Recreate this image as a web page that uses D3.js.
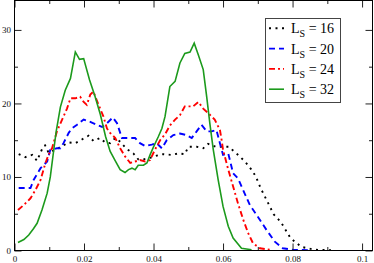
<!DOCTYPE html>
<html>
<head>
<meta charset="utf-8">
<script src="https://cdn.jsdelivr.net/npm/d3@7"></script>
<style>
  body { margin: 0; background: #fff; }
  text { font-family: "Liberation Serif", "Times New Roman", serif; }
</style>
</head>
<body>
<div id="chart"></div>
<script>
// Curves, [x, value] pairs per lattice size
var ls16 = [[0.0012,13.1],[0.0031,12.7],[0.0051,13.0],[0.0065,12.2],[0.0073,13.1],[0.0082,14.1],[0.0088,14.3],
  [0.0098,13.3],[0.0122,13.8],[0.0156,14.7],[0.0175,14.6],[0.0194,15.1],[0.0213,15.6],[0.0227,14.9],[0.0246,15.3],
  [0.0261,14.7],[0.0275,14.6],[0.029,15.3],[0.0304,14.8],[0.0323,13.8],[0.0342,13.2],[0.0356,12.4],[0.0371,12.4],
  [0.039,12.6],[0.0409,12.9],[0.0428,13.1],[0.0452,13.0],[0.0471,13.2],[0.049,13.1],[0.05,14.1],[0.0524,14.1],
  [0.0543,13.9],[0.0557,14.5],[0.0579,14.1],[0.0598,14.1],[0.0618,14.1],[0.0631,13.5],[0.0646,12.9],[0.0665,12.0],
  [0.068,11.1],[0.0694,10.1],[0.0708,8.5],[0.0727,6.7],[0.0746,4.9],[0.0766,3.9],[0.078,2.8],[0.0794,1.7],
  [0.0809,1.1],[0.0825,0.5],[0.0844,0.3],[0.0863,0.1],[0.0911,0.05]];

var ls20 = [[0.0012,8.5],[0.0046,8.5],[0.0055,9.6],[0.0075,11.2],[0.0094,12.1],[0.0103,13.7],[0.0122,13.9],
  [0.0132,13.9],[0.0141,14.6],[0.0156,16.0],[0.0165,16.6],[0.018,17.1],[0.0199,17.8],[0.0218,17.5],[0.0237,17.1],
  [0.0252,16.8],[0.0266,17.3],[0.0283,18.1],[0.0295,17.3],[0.0309,15.3],[0.0323,15.3],[0.0347,15.3],[0.0361,14.6],
  [0.0376,14.2],[0.0395,14.4],[0.0409,14.6],[0.0424,13.9],[0.0438,15.0],[0.0457,15.7],[0.0476,15.9],[0.0495,15.7],
  [0.051,15.3],[0.0524,16.2],[0.0538,17.1],[0.0553,16.2],[0.0567,16.2],[0.0581,16.4],[0.0591,14.6],[0.06,13.0],
  [0.0615,13.2],[0.0629,10.5],[0.0643,9.8],[0.0658,8.2],[0.0677,6.2],[0.07,4.6],[0.0725,2.8],[0.0749,1.2],
  [0.0772,0.3],[0.0801,0.1],[0.085,0.05]];

var ls24 = [[0.001,5.5],[0.0027,6.2],[0.0046,7.1],[0.006,8.2],[0.0075,9.6],[0.0089,11.9],[0.0098,13.0],
  [0.0108,13.9],[0.0122,16.2],[0.0137,17.8],[0.0151,19.3],[0.0161,20.7],[0.0175,20.7],[0.0189,20.9],[0.0199,20.2],
  [0.0208,19.8],[0.0218,21.2],[0.0227,21.6],[0.0242,19.8],[0.0256,18.2],[0.0266,16.6],[0.0275,16.0],[0.029,15.3],
  [0.0304,13.9],[0.0318,12.8],[0.0333,11.9],[0.0347,12.1],[0.0361,12.3],[0.0376,12.1],[0.039,12.3],[0.0404,13.7],
  [0.0419,15.0],[0.0433,15.8],[0.0447,17.0],[0.0462,17.8],[0.0476,18.4],[0.049,19.6],[0.0514,19.6],[0.0529,20.2],
  [0.0543,19.3],[0.0557,18.7],[0.0576,17.8],[0.0591,16.4],[0.0596,15.0],[0.06,13.7],[0.0615,11.0],[0.0629,8.7],
  [0.0643,6.4],[0.0658,4.2],[0.0672,2.4],[0.0686,1.0],[0.0706,0.3],[0.0734,0.1]];

var ls32 = [[0.001,1.1],[0.0027,1.5],[0.0041,2.1],[0.0055,3.0],[0.0065,3.7],[0.0079,5.5],[0.0094,7.8],
  [0.0103,10.0],[0.0113,13.7],[0.012,16.2],[0.0132,19.5],[0.0146,21.8],[0.0161,23.4],[0.0175,27.0],[0.0187,26.0],
  [0.0199,26.1],[0.0216,23.2],[0.0232,20.9],[0.0247,18.5],[0.0262,15.5],[0.0275,13.5],[0.029,12.2],[0.0304,11.0],
  [0.0318,10.6],[0.0328,11.0],[0.0338,11.2],[0.0347,11.0],[0.0356,11.6],[0.0371,11.6],[0.0381,11.9],[0.039,13.0],
  [0.04,14.1],[0.0414,15.5],[0.0424,16.6],[0.0433,18.2],[0.0447,22.3],[0.0462,23.0],[0.0476,25.5],[0.049,26.8],
  [0.0505,27.0],[0.0517,28.2],[0.0529,26.6],[0.0543,24.6],[0.0553,20.9],[0.0562,17.3],[0.0572,13.7],[0.0586,9.6],
  [0.06,6.0],[0.0615,3.3],[0.0629,1.7],[0.0653,0.3],[0.0682,0.1]];

var seriesNames = ["16", "20", "24", "32"];
var seriesData = [ls16, ls20, ls24, ls32];
var seriesColors = ["#000000", "#0000ff", "#ff0000", "#1c9a1c"];
var seriesDash = ["2,4.5", "6,4", "6,3,2,3", null];

var xMajor = [0, 0.02, 0.04, 0.06, 0.08, 0.1];
var xMinor = [0.01, 0.03, 0.05, 0.07, 0.09];
var yMajor = [0, 10, 20, 30];
var yMinor = [5, 15, 25];

// plot box (note: "top" is taken by window.top, so p_ names)
var width = 374, height = 263;
var p_left = 14.5, p_right = 372.5, p_top = 0.5, p_bottom = 250.5;

var svg = d3.select("#chart").append("svg")
    .attr("width", width)
    .attr("height", height);

var x = d3.scaleLinear().domain([0, 0.103]).range([p_left, p_right]);
var y = d3.scaleLinear().domain([0, 34]).range([p_bottom, p_top]);

svg.append("clipPath").attr("id", "clip")
  .append("rect")
    .attr("x", p_left).attr("y", p_top)
    .attr("width", p_right - p_left).attr("height", p_bottom - p_top);

// Curves
var line = d3.line()
    .x(function(d) { return x(d[0]); })
    .y(function(d) { return y(d[1]); });

var curves = svg.append("g").attr("clip-path", "url(#clip)");
seriesData.forEach(function(s, i) {
  curves.append("path")
      .datum(s)
      .attr("d", line)
      .attr("fill", "none")
      .attr("stroke", seriesColors[i])
      .attr("stroke-width", i == 3 ? 1.6 : 1.9)
      .attr("stroke-dasharray", seriesDash[i]);
});

// Axes, ticks point inward on all four sides
function styleAxis(g) {
  g.select(".domain").remove();
  g.selectAll(".tick line").attr("stroke", "#222");
  g.selectAll("text").attr("font-size", "9px").attr("fill", "#111");
}

svg.append("g")
    .attr("transform", "translate(0," + p_bottom + ")")
    .call(d3.axisBottom(x).tickValues(xMajor).tickSize(-7).tickPadding(5)
      .tickFormat(function(d) { return d === 0 ? "0" : String(+d.toFixed(2)); }))
    .call(styleAxis);
svg.append("g")
    .attr("transform", "translate(0," + p_bottom + ")")
    .call(d3.axisBottom(x).tickValues(xMinor).tickSize(-3.5).tickFormat(""))
    .call(styleAxis);
svg.append("g")
    .attr("transform", "translate(0," + p_top + ")")
    .call(d3.axisTop(x).tickValues(xMajor).tickSize(-7).tickFormat(""))
    .call(styleAxis);
svg.append("g")
    .attr("transform", "translate(0," + p_top + ")")
    .call(d3.axisTop(x).tickValues(xMinor).tickSize(-3.5).tickFormat(""))
    .call(styleAxis);

svg.append("g")
    .attr("transform", "translate(" + p_left + ",0)")
    .call(d3.axisLeft(y).tickValues(yMajor).tickSize(-7).tickPadding(3.5))
    .call(styleAxis);
svg.append("g")
    .attr("transform", "translate(" + p_left + ",0)")
    .call(d3.axisLeft(y).tickValues(yMinor).tickSize(-3.5).tickFormat(""))
    .call(styleAxis);
svg.append("g")
    .attr("transform", "translate(" + p_right + ",0)")
    .call(d3.axisRight(y).tickValues(yMajor).tickSize(-7).tickFormat(""))
    .call(styleAxis);
svg.append("g")
    .attr("transform", "translate(" + p_right + ",0)")
    .call(d3.axisRight(y).tickValues(yMinor).tickSize(-3.5).tickFormat(""))
    .call(styleAxis);

// Frame
svg.append("rect")
    .attr("x", p_left).attr("y", p_top)
    .attr("width", p_right - p_left).attr("height", p_bottom - p_top)
    .attr("fill", "none")
    .attr("stroke", "#000")
    .attr("stroke-width", 1);

// Legend
var legend = svg.append("g");
legend.append("rect")
    .attr("x", 265.5).attr("y", 18.5)
    .attr("width", 75).attr("height", 84)
    .attr("fill", "#fff")
    .attr("stroke", "#444")
    .attr("stroke-width", 1);

seriesNames.forEach(function(name, i) {
  var cy = 28.3 + i * 20.3;
  legend.append("line")
      .attr("x1", 269).attr("x2", 284)
      .attr("y1", cy).attr("y2", cy)
      .attr("stroke", seriesColors[i])
      .attr("stroke-width", i == 3 ? 1.6 : 1.9)
      .attr("stroke-dasharray", seriesDash[i]);
  var t = legend.append("text")
      .attr("x", 291).attr("y", cy + 5)
      .attr("font-size", "14px")
      .attr("fill", "#000");
  t.append("tspan").text("L");
  t.append("tspan").attr("font-size", "10px").attr("dy", 4).text("S");
  t.append("tspan").attr("dy", -4).text(" = " + name);
});
</script>
</body>
</html>
